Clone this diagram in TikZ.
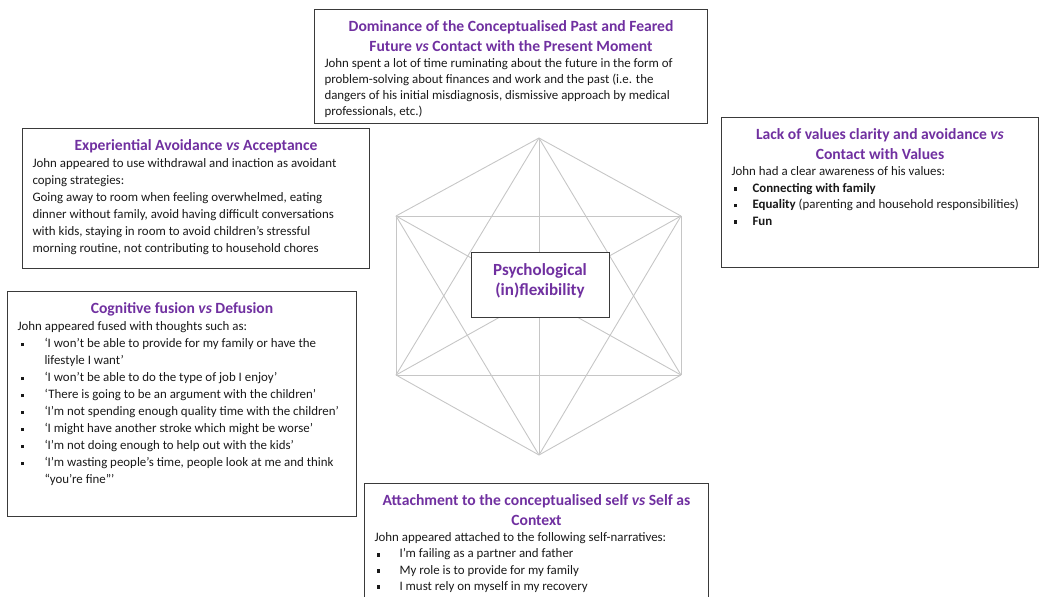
\documentclass[tikz,border=0pt]{standalone}
\usepackage{fontspec}
\setmainfont{Carlito}
\usetikzlibrary{positioning}
\definecolor{actpurple}{HTML}{7030A0}
\definecolor{hexgray}{HTML}{C6C6C6}
\definecolor{boxline}{HTML}{3A3A3A}
\tikzstyle{panel} = [draw=boxline, line width=1pt, anchor=north west, inner xsep=10pt, inner ysep=4pt, text=black!90]
\tikzstyle{hexline} = [draw=hexgray, line width=0.9pt]
\newcommand{\titlefont}{\fontsize{15.6}{20}\selectfont\bfseries\color{actpurple}}
\newcommand{\bodyfont}{\fontsize{12.9}{17}\selectfont}
\newcommand{\vsword}{\textit{vs}}
\newcommand{\bitem}[3]{\par\noindent\hangindent=#1pt\hangafter=1\makebox[#1pt][l]{\hspace{#2pt}\rule[1.4pt]{3.5pt}{3.5pt}}#3}
\newcommand{\panelbox}[3]{\parbox[t][#2pt][t]{#1pt}{\raggedright\bodyfont #3}}

\begin{document}
\begin{tikzpicture}[x=1pt, y=-1pt]
      \useasboundingbox (0,0) rectangle (1039,597);
      \coordinate (top) at (539,138);
      \coordinate (upl) at (396,216);
      \coordinate (upr) at (681,216);
      \coordinate (lol) at (396,375);
      \coordinate (lor) at (681,375);
      \coordinate (bot) at (539,455);
      \foreach \a/\b in {top/upl, top/upr, top/lol, top/lor, top/bot, upl/upr, upl/lol, upl/lor, upl/bot,
                         upr/lol, upr/lor, upr/bot, lol/lor, lol/bot, lor/bot}
        \draw[hexline] (\a) -- (\b);
      \node[panel, anchor=center, fill=white, inner sep=0pt, minimum width=138pt, minimum height=65pt, align=center,
            text depth=10pt, font=\fontsize{17}{20}\selectfont\bfseries, text=actpurple] (core) at (540,284.5) {Psychological\\(in)flexibility};
      \node[panel] (present) at (314,9) {\panelbox{373}{106}{%
        {\centering\titlefont\rule{0pt}{18pt}Dominance of the Conceptualised Past and Feared\\
         Future \vsword{} Contact with the Present Moment\par}
        \fontsize{12.9}{16}\selectfont
        John spent a lot of time ruminating about the future in the form of\\
        problem-solving about finances and work and the past (i.e. the\\
        dangers of his initial misdiagnosis, dismissive approach by medical\\
        professionals, etc.)}};
      \node[panel] (accept) at (22,128) {\panelbox{327}{132}{%
        {\centering\titlefont\rule{0pt}{18pt}Experiential Avoidance \vsword{} Acceptance\par}
        John appeared to use withdrawal and inaction as avoidant\\
        coping strategies:\\
        Going away to room when feeling overwhelmed, eating\\
        dinner without family, avoid having difficult conversations\\
        with kids, staying in room to avoid children’s stressful\\
        morning routine, not contributing to household chores}};
      \node[panel] (values) at (721,117) {\panelbox{297}{142}{%
        {\centering\titlefont\rule{0pt}{18pt}Lack of values clarity and avoidance \vsword\\
         Contact with Values\par}
        \fontsize{12.9}{16.4}\selectfont
        John had a clear awareness of his values:
        \bitem{21}{2}{\textbf{Connecting with family}}
        \bitem{21}{2}{\textbf{Equality} (parenting and household responsibilities)}
        \bitem{21}{2}{\textbf{Fun}}}};
      \node[panel] (defusion) at (7,291) {\panelbox{329}{217}{%
        {\centering\titlefont\rule{0pt}{18pt}Cognitive fusion \vsword{} Defusion\par}
        John appeared fused with thoughts such as:
        \bitem{27}{3}{‘I won’t be able to provide for my family or have the\newline lifestyle I want’}
        \bitem{27}{3}{‘I won’t be able to do the type of job I enjoy’}
        \bitem{27}{3}{‘There is going to be an argument with the children’}
        \bitem{27}{3}{‘I’m not spending enough quality time with the children’}
        \bitem{27}{3}{‘I might have another stroke which might be worse’}
        \bitem{27}{3}{‘I’m not doing enough to help out with the kids’}
        \bitem{27}{3}{‘I’m wasting people’s time, people look at me and think\newline “you’re fine”’}}};
      \node[panel] (context) at (364,483) {\panelbox{324}{114}{%
        {\centering\titlefont\rule{0pt}{18pt}Attachment to the conceptualised self \vsword{} Self as\\
         Context\par}
        \fontsize{12.9}{16.2}\selectfont
        John appeared attached to the following self-narratives:
        \bitem{25}{2}{I’m failing as a partner and father}
        \bitem{25}{2}{My role is to provide for my family}
        \bitem{25}{2}{I must rely on myself in my recovery}}};
\end{tikzpicture}
\end{document}
